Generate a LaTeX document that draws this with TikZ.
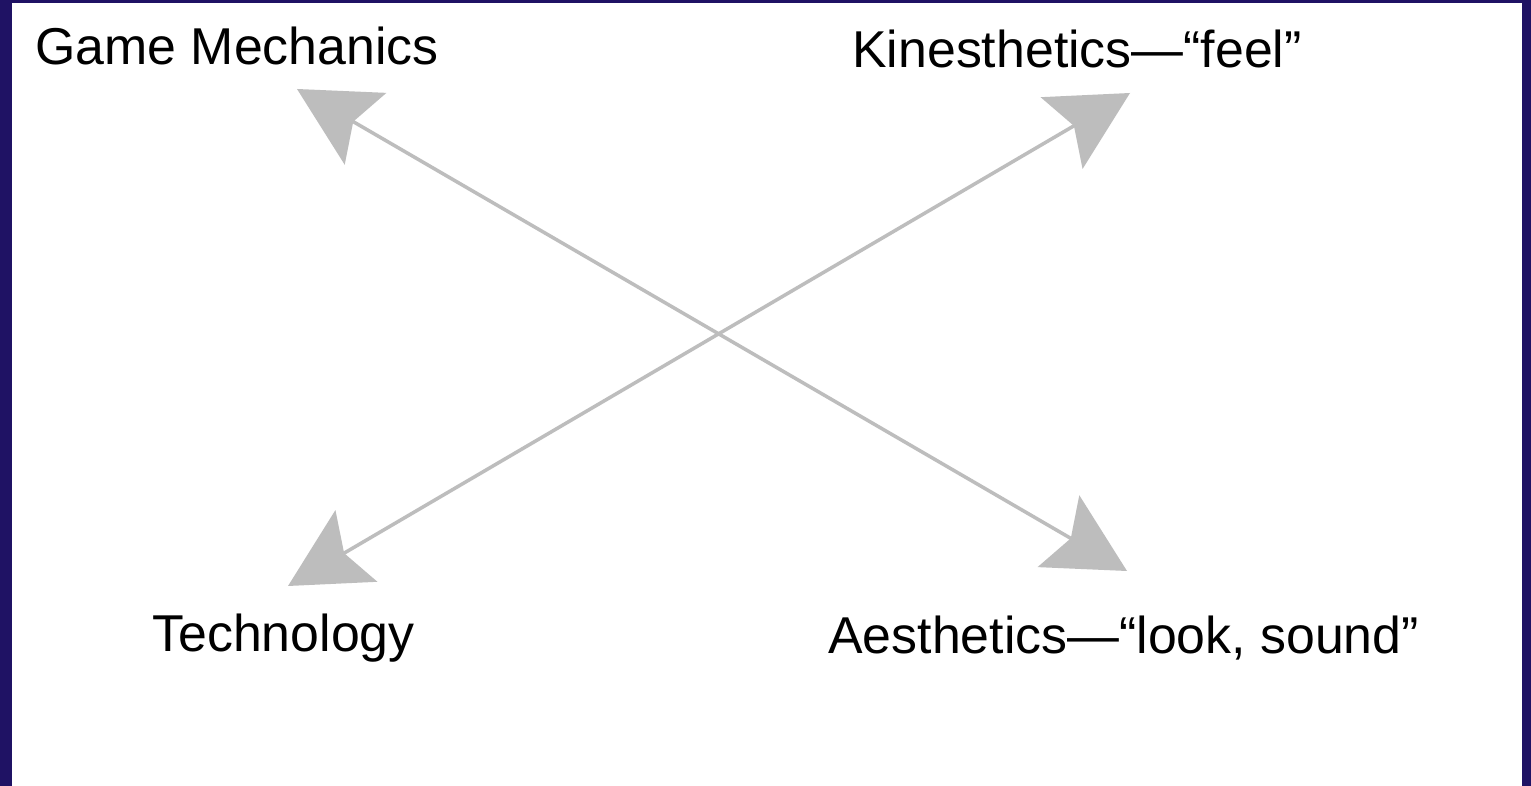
\documentclass[tikz,border=0pt]{standalone}
\usepackage{fontspec}
\setmainfont{Liberation Sans}
\usetikzlibrary{arrows.meta}
\definecolor{framenavy}{HTML}{1F1264}
\definecolor{arrowgray}{HTML}{BDBDBD}
\begin{document}
\begin{tikzpicture}[x=0.02cm,y=-0.02cm,
  label/.style={anchor=base west,inner sep=0pt,font=\fontsize{29.5}{35}\selectfont,text=black},
  bigarrow/.style={draw=arrowgray,line width=2pt,
    {Stealth[length=45pt,width=47pt,inset=8pt,fill=arrowgray]}-{Stealth[length=45pt,width=47pt,inset=8pt,fill=arrowgray]}}]
\useasboundingbox (0,0) rectangle (1531,786);
\fill[framenavy] (0,0) rectangle (1531,786);
\fill[white] (12,3) rectangle (1522,786);
\node[label] (gm) at (35,65) {Game Mechanics};
\node[label] (kin) at (852,68) {Kinesthetics—“feel”};
\node[label] (tech) at (152,651) {Technology};
\node[label] (aes) at (828,653) {Aesthetics—“look, sound”};
\coordinate (gmtip) at (297,89);
\coordinate (aestip) at (1127,571);
\coordinate (techtip) at (288,586);
\coordinate (kintip) at (1130,93);
\draw[bigarrow] (gmtip) -- (aestip);
\draw[bigarrow] (techtip) -- (kintip);
\end{tikzpicture}
\end{document}
